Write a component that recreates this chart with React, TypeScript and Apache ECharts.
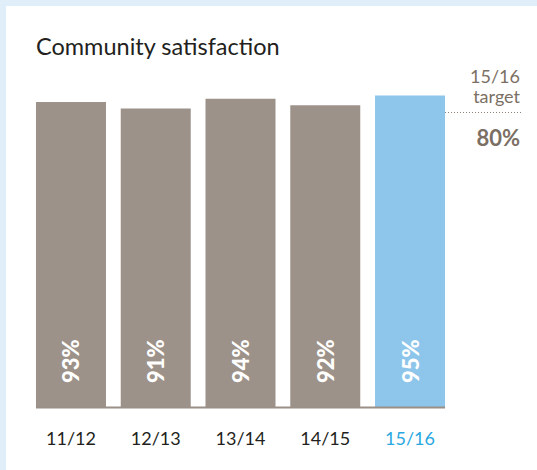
import React, { useEffect, useRef } from "react";
import * as echarts from "echarts";

const categories = ["11/12", "12/13", "13/14", "14/15", "15/16"];
const satisfaction = [93, 91, 94, 92, 95];
const targetYear = "15/16";
const targetValue = "80%";
const chartTitle = "Community satisfaction";

const GREY = "#9d9289";
const BLUE = "#8ec5ea";
const BLUE_TEXT = "#29a8e0";
const TARGET_TEXT = "#7b6f64";
const FONT = "Lato, 'Open Sans', sans-serif";

export default function App() {
  const ref = useRef<HTMLDivElement>(null);

  useEffect(() => {
    if (!ref.current) return;
    const chart = echarts.init(ref.current, null, { renderer: "svg" });
    const last = categories.length - 1;
    const barWidth = 70;
    chart.setOption({
      animation: false,
      backgroundColor: "#e0eef9",
      grid: { left: 28.6, right: 84.6, top: 79, bottom: 63 },
      xAxis: {
        type: "category",
        data: categories.map((c, i) => ({
          value: c,
          textStyle: { color: i === last ? BLUE_TEXT : "#231f20" },
        })),
        axisLine: { show: false },
        axisTick: { show: false },
        axisLabel: { fontFamily: FONT, fontSize: 18, margin: 22 },
      },
      yAxis: {
        type: "value",
        min: 0,
        max: 100,
        show: false,
        splitLine: { show: false },
      },
      series: [
        {
          type: "bar",
          barWidth,
          data: satisfaction.map((v, i) => ({
            value: v,
            itemStyle: { color: i === last ? BLUE : GREY },
          })),
          label: {
            show: true,
            position: "insideBottom",
            distance: 24,
            rotate: 90,
            align: "left",
            verticalAlign: "middle",
            color: "#ffffff",
            fontFamily: FONT,
            fontWeight: 900,
            fontSize: 22,
            formatter: (p: any) => p.value + "%",
          },
        },
      ],
    });

    const x0 = chart.convertToPixel({ xAxisIndex: 0 }, 0) as number;
    const x1 = chart.convertToPixel({ xAxisIndex: 0 }, last) as number;
    const y0 = chart.convertToPixel({ yAxisIndex: 0 }, 0) as number;

    chart.setOption({
      graphic: [
        {
          type: "rect",
          z: -10,
          silent: true,
          shape: { x: 6, y: 6, width: 540, height: 470 },
          style: { fill: "#ffffff" },
        },
        {
          type: "text",
          x: 36,
          y: 46,
          style: {
            text: chartTitle,
            fontFamily: FONT,
            fontSize: 23.5,
            fill: "#231f20",
            verticalAlign: "middle",
            align: "left",
          },
        },
        {
          type: "text",
          x: 520,
          y: 76,
          style: {
            text: targetYear,
            fontFamily: FONT,
            fontSize: 18,
            fill: TARGET_TEXT,
            align: "right",
            verticalAlign: "middle",
          },
        },
        {
          type: "text",
          x: 520,
          y: 96,
          style: {
            text: "target",
            fontFamily: FONT,
            fontSize: 18,
            fill: TARGET_TEXT,
            align: "right",
            verticalAlign: "middle",
          },
        },
        {
          type: "line",
          shape: { x1: x1 + barWidth / 2, y1: 112.5, x2: 522, y2: 112.5 },
          style: { stroke: "#8a8078", lineWidth: 1, lineDash: [1, 2] },
        },
        {
          type: "text",
          x: 520,
          y: 137,
          style: {
            text: targetValue,
            fontFamily: FONT,
            fontSize: 22,
            fontWeight: "bold",
            fill: TARGET_TEXT,
            align: "right",
            verticalAlign: "middle",
          },
        },
        {
          type: "line",
          z: 10,
          shape: {
            x1: x0 - barWidth / 2,
            y1: y0 + 0.5,
            x2: x1 + barWidth / 2,
            y2: y0 + 0.5,
          },
          style: { stroke: "#9a9087", lineWidth: 2 },
        },
      ],
    });

    return () => chart.dispose();
  }, []);

  return (
    <div
      ref={ref}
      style={{ position: "fixed", left: 0, top: 0, width: 537, height: 470 }}
    />
  );
}
